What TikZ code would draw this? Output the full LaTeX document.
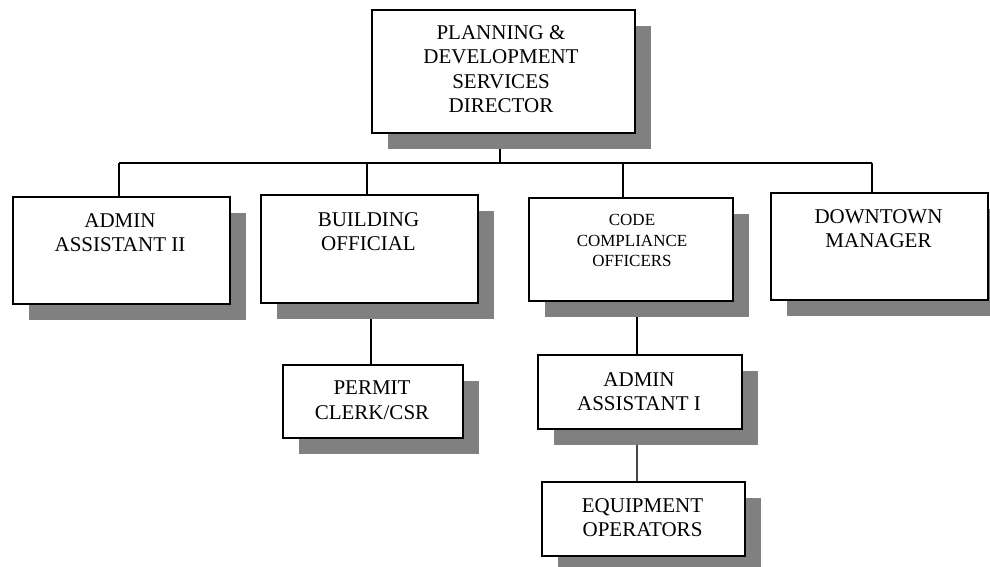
\documentclass[tikz,border=0pt]{standalone}
\usepackage{fontspec}
\setmainfont{Liberation Serif}
\usetikzlibrary{shadows,backgrounds}
\definecolor{shadowgray}{HTML}{808080}
\tikzset{
  orgbox/.style={draw=black, line width=1.8pt, fill=white, inner sep=0pt,
    anchor=north west,
    drop shadow={shadow xshift=16.5pt, shadow yshift=-16.5pt, fill=shadowgray, opacity=1}},
  lbl/.style={inner sep=0pt, align=center, anchor=north, text=black,
    font=\fontsize{21}{24.5}\selectfont},
  lblsmall/.style={lbl, font=\fontsize{17}{20.3}\selectfont},
  conn/.style={draw=black, line width=1.5pt},
  conngray/.style={draw=black!72, line width=1.5pt}
}
\newcommand\mkbox[5]{%
  \node[orgbox, minimum width=#4pt-#2pt, minimum height=#5pt-#3pt] (#1) at (#2,#3) {};}
\begin{document}
\begin{tikzpicture}[x=1pt,y=-1pt]
\useasboundingbox (0,0) rectangle (990,567);
\clip (0,0) rectangle (990,567);

% boxes
\mkbox{dir}{371}{9}{634}{132}
\mkbox{aa2}{12}{196}{229}{303}
\mkbox{bo}{260}{194}{477}{302}
\mkbox{cco}{528}{197}{732}{300}
\mkbox{dm}{770}{192}{987}{299}
\mkbox{pc}{282}{364}{462}{437}
\mkbox{aa1}{537}{354}{741}{428}
\mkbox{eo}{541}{481}{744}{555}

% texts
\node[lbl] (tdir) at (501,25) {PLANNING \&\\DEVELOPMENT\\SERVICES\\DIRECTOR};
\node[lbl] (taa2) at (120,213) {ADMIN\\ASSISTANT II};
\node[lbl] (tbo) at (368.5,212) {BUILDING\\OFFICIAL};
\node[lblsmall] (tcco) at (632,214.5) {CODE\\COMPLIANCE\\OFFICERS};
\node[lbl] (tdm) at (878.5,209) {DOWNTOWN\\MANAGER};
\node[lbl] (tpc) at (372,381) {PERMIT\\CLERK/CSR};
\node[lbl] (taa1) at (639,372) {ADMIN\\ASSISTANT I};
\node[lbl] (teo) at (642.5,498) {EQUIPMENT\\OPERATORS};

% connector coordinates
\coordinate (bus) at (500,163);
\coordinate (busL) at (119,163);
\coordinate (busB) at (367,163);
\coordinate (busC) at (623,163);
\coordinate (busR) at (872,163);
\coordinate (colP) at (371,0);
\coordinate (colA) at (637,0);

\begin{pgfonlayer}{background}
\draw[conn] (dir.south -| bus) -- (bus);
\draw[conn] (busL) -- (busR);
\draw[conn] (busL) -- (busL |- aa2.north);
\draw[conn] (busB) -- (busB |- bo.north);
\draw[conn] (busC) -- (busC |- cco.north);
\draw[conn] (busR) -- (busR |- dm.north);
\draw[conn] (colP |- bo.south) -- (colP |- pc.north);
\draw[conn] (colA |- cco.south) -- (colA |- aa1.north);
\draw[conngray] (colA |- aa1.south) -- (colA |- eo.north);
\end{pgfonlayer}
\end{tikzpicture}
\end{document}
